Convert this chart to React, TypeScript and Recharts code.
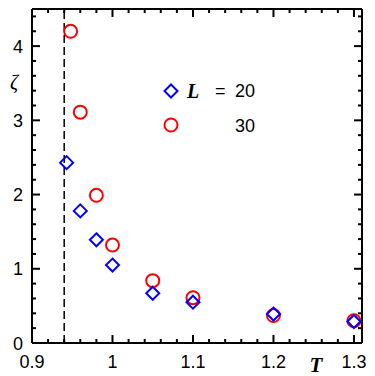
import React from 'react';
import { ScatterChart, Scatter, XAxis, YAxis, ReferenceLine } from 'recharts';

// temperatures and correlation ratio zeta
const tempL20 = [0.943, 0.96, 0.98, 1.0, 1.05, 1.1, 1.2, 1.3];
const zetaL20 = [2.43, 1.78, 1.39, 1.05, 0.67, 0.55, 0.39, 0.29];
const tempL30 = [0.948, 0.96, 0.98, 1.0, 1.05, 1.1, 1.2, 1.3];
const zetaL30 = [4.2, 3.11, 1.99, 1.32, 0.84, 0.61, 0.37, 0.3];

const criticalT = 0.94;
const xDomain = [0.9, 1.31];
const yDomain = [0, 4.5];

const xMajor = [0.9, 1, 1.1, 1.2, 1.3];
const xTicks = [
    0.9, 0.92, 0.94, 0.96, 0.98, 1, 1.02, 1.04, 1.06, 1.08, 1.1,
    1.12, 1.14, 1.16, 1.18, 1.2, 1.22, 1.24, 1.26, 1.28, 1.3,
];
const yMajor = [0, 1, 2, 3, 4];
const yTicks = [
    0, 0.2, 0.4, 0.6, 0.8, 1, 1.2, 1.4, 1.6, 1.8, 2, 2.2, 2.4,
    2.6, 2.8, 3, 3.2, 3.4, 3.6, 3.8, 4, 4.2, 4.4,
];

const data20 = tempL20.map((t, i) => ({ t, z: zetaL20[i] }));
const data30 = tempL30.map((t, i) => ({ t, z: zetaL30[i] }));

const BLUE = '#0000ff';
const RED = '#ff0000';
const SANS = '"Liberation Sans", Arial, sans-serif';
const SERIF = '"Liberation Serif", "Times New Roman", serif';

const W = 375;
const H = 376;
const margin = { top: 9, right: 13, bottom: 0, left: 0 };
const Y_AXIS_W = 32;
const X_AXIS_H = 33;
const plotW = W - margin.left - margin.right - Y_AXIS_W;
const plotH = H - margin.top - margin.bottom - X_AXIS_H;

const isMajor = (v: number, list: number[]) => list.some(m => Math.abs(m - v) < 1e-6);
const fmt = (v: number) => (Math.abs(v - 1) < 1e-6 ? '1' : String(v));

// tick lengths in pixels, turned into data units so the marks go through the chart scales
const MAJOR = 8;
const MINOR = 4;
const xPx = (px: number) => (px * (xDomain[1] - xDomain[0])) / plotW;
const yPx = (px: number) => (px * (yDomain[1] - yDomain[0])) / plotH;

const BottomLabel = (props: any) => {
    const { x, y, payload } = props;
    if (!isMajor(payload.value, xMajor)) return <g />;
    return (
        <text x={x} y={y + 25} textAnchor="middle" fontFamily={SANS} fontSize={18} fill="#000">
            {fmt(payload.value)}
        </text>
    );
};

const LeftLabel = (props: any) => {
    const { x, y, payload } = props;
    if (!isMajor(payload.value, yMajor)) return <g />;
    return (
        <text x={x - 9} y={y + 6.5} textAnchor="end" fontFamily={SANS} fontSize={18} fill="#000">
            {payload.value}
        </text>
    );
};

const Diamond = (props: any) => {
    const { cx, cy } = props;
    const r = 6.5;
    return (
        <polygon
            points={`${cx},${cy - r} ${cx + r},${cy} ${cx},${cy + r} ${cx - r},${cy}`}
            fill="none"
            stroke={BLUE}
            strokeWidth={2}
        />
    );
};

const Ring = (props: any) => {
    const { cx, cy } = props;
    return <circle cx={cx} cy={cy} r={6.5} fill="none" stroke={RED} strokeWidth={2} />;
};

const KeyBox = () => (
    <svg width={110} height={64} style={{ position: 'absolute', left: 160, top: 78 }}>
        <Diamond cx={11} cy={13} />
        <text x={27} y={20} fontFamily={SERIF} fontStyle="italic" fontWeight="bold" fontSize={20}>L</text>
        <text x={55} y={19} fontFamily={SANS} fontSize={18}>=</text>
        <text x={75} y={19} fontFamily={SANS} fontSize={18}>20</text>
        <Ring cx={11} cy={47} />
        <text x={75} y={54} fontFamily={SANS} fontSize={18}>30</text>
    </svg>
);

const AxisTitles = () => (
    <svg width={W} height={H} style={{ position: 'absolute', left: 0, top: 0, pointerEvents: 'none' }}>
        <text x={14} y={89} textAnchor="middle" fontFamily={SERIF} fontStyle="italic" fontSize={20}>ζ</text>
        <text x={316} y={372} textAnchor="middle" fontFamily={SERIF} fontStyle="italic" fontWeight="bold" fontSize={21}>
            T
        </text>
    </svg>
);

const axisStroke = { stroke: '#000', strokeWidth: 2 };
const tickProps = { xAxisId: 'x', yAxisId: 'y', stroke: '#000', strokeWidth: 2, ifOverflow: 'visible' as const };

export default function App() {
    return (
        <div style={{ position: 'absolute', left: 0, top: 0, width: W, height: H, background: '#fff' }}>
            <ScatterChart width={W} height={H} margin={margin}>
                <XAxis
                    xAxisId="x"
                    dataKey="t"
                    type="number"
                    domain={xDomain}
                    allowDataOverflow
                    ticks={xTicks}
                    interval={0}
                    height={X_AXIS_H}
                    tickSize={0}
                    tickMargin={0}
                    tickLine={false}
                    axisLine={axisStroke}
                    tick={<BottomLabel />}
                />
                <YAxis
                    yAxisId="y"
                    dataKey="z"
                    type="number"
                    domain={yDomain}
                    allowDataOverflow
                    ticks={yTicks}
                    interval={0}
                    width={Y_AXIS_W}
                    tickSize={0}
                    tickMargin={0}
                    tickLine={false}
                    axisLine={axisStroke}
                    tick={<LeftLabel />}
                />
                {/* top and right frame */}
                <ReferenceLine xAxisId="x" yAxisId="y" y={yDomain[1]} stroke="#000" strokeWidth={2} />
                <ReferenceLine xAxisId="x" yAxisId="y" x={xDomain[1]} stroke="#000" strokeWidth={2} />
                {/* inward ticks on bottom and top */}
                {xTicks.map(v => {
                    const len = yPx(isMajor(v, xMajor) ? MAJOR : MINOR);
                    return (
                        <React.Fragment key={`xt${v}`}>
                            <ReferenceLine {...tickProps} segment={[{ x: v, y: yDomain[0] }, { x: v, y: yDomain[0] + len }]} />
                            <ReferenceLine {...tickProps} segment={[{ x: v, y: yDomain[1] }, { x: v, y: yDomain[1] - len }]} />
                        </React.Fragment>
                    );
                })}
                {/* inward ticks on left and right */}
                {yTicks.map(v => {
                    const len = xPx(isMajor(v, yMajor) ? MAJOR : MINOR);
                    return (
                        <React.Fragment key={`yt${v}`}>
                            <ReferenceLine {...tickProps} segment={[{ x: xDomain[0], y: v }, { x: xDomain[0] + len, y: v }]} />
                            <ReferenceLine {...tickProps} segment={[{ x: xDomain[1], y: v }, { x: xDomain[1] - len, y: v }]} />
                        </React.Fragment>
                    );
                })}
                <ReferenceLine
                    xAxisId="x"
                    yAxisId="y"
                    x={criticalT}
                    stroke="#000"
                    strokeWidth={1.5}
                    strokeDasharray="8 4"
                />
                <Scatter xAxisId="x" yAxisId="y" name="L = 30" data={data30} shape={<Ring />} isAnimationActive={false} />
                <Scatter xAxisId="x" yAxisId="y" name="L = 20" data={data20} shape={<Diamond />} isAnimationActive={false} />
            </ScatterChart>
            <AxisTitles />
            <KeyBox />
        </div>
    );
}
